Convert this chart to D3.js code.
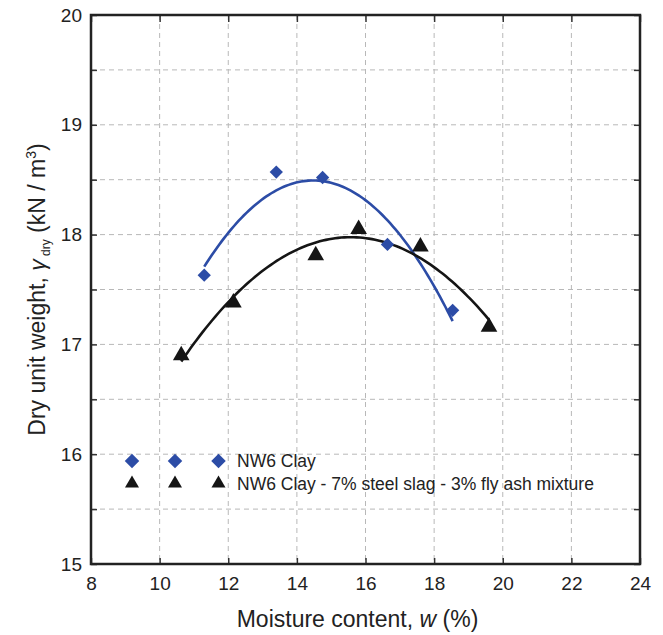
<!DOCTYPE html>
<html>
<head>
<meta charset="utf-8">
<script src="https://cdn.jsdelivr.net/npm/d3@7"></script>
<style>
  body { margin: 0; background: #fff; }
  text { font-family: "Liberation Sans", Arial, sans-serif; fill: #222; }
</style>
</head>
<body>
<div id="chart"></div>
<script>
// data
const clayW = [11.3, 13.4, 14.75, 16.64, 18.54];
const clayG = [17.63, 18.57, 18.52, 17.91, 17.31];
const mixW = [10.63, 12.15, 14.55, 15.8, 17.6, 19.6];
const mixG = [16.9, 17.38, 17.81, 18.05, 17.89, 17.16];
const xTicks = [8, 10, 12, 14, 16, 18, 20, 22, 24];
const yTicks = [15, 16, 17, 18, 19, 20];
const seriesNames = ["NW6 Clay", "NW6 Clay - 7% steel slag - 3% fly ash mixture"];

let margin = { top: 15, right: 23, bottom: 71, left: 91 },
    width = 663 - margin.left - margin.right,
    height = 635 - margin.top - margin.bottom;

let svg = d3.select("#chart")
    .append("svg")
    .attr("width", 663)
    .attr("height", 635)
    .append("g")
    .attr("transform", "translate(" + margin.left + "," + margin.top + ")");

let x = d3.scaleLinear().domain([8, 24]).range([0, width]);
let y = d3.scaleLinear().domain([15, 20]).range([height, 0]);

// dashed grid
let gridX = d3.range(10, 24, 2);
let gridY = d3.range(15.5, 20, 0.5);
svg.append("g").selectAll("line").data(gridX).enter().append("line")
    .attr("x1", d => x(d)).attr("x2", d => x(d))
    .attr("y1", 0).attr("y2", height)
    .attr("stroke", "#b8b8b8").attr("stroke-dasharray", "5,4").attr("stroke-width", 1);
svg.append("g").selectAll("line").data(gridY).enter().append("line")
    .attr("y1", d => y(d)).attr("y2", d => y(d))
    .attr("x1", 0).attr("x2", width)
    .attr("stroke", "#b8b8b8").attr("stroke-dasharray", "5,4").attr("stroke-width", 1);

// axes with inward ticks
let minorY = d3.range(15, 20.01, 0.5);
let axBottom = svg.append("g").attr("transform", "translate(0," + height + ")")
    .call(d3.axisBottom(x).tickValues(xTicks).tickSizeInner(-6).tickSizeOuter(0).tickPadding(13).tickFormat(d3.format("d")));
let axTop = svg.append("g")
    .call(d3.axisTop(x).tickValues(xTicks).tickSizeInner(-7).tickSizeOuter(0).tickFormat(""));
let axLeft = svg.append("g")
    .call(d3.axisLeft(y).tickValues(minorY).tickSizeInner(-6).tickSizeOuter(0).tickPadding(9)
        .tickFormat(d => Number.isInteger(d) ? d : ""));
let axRight = svg.append("g").attr("transform", "translate(" + width + ",0)")
    .call(d3.axisRight(y).tickValues(minorY).tickSizeInner(-6).tickSizeOuter(0).tickFormat(""));

[axBottom, axTop, axLeft, axRight].forEach(g => {
    g.select(".domain").remove();
    g.selectAll(".tick line").attr("stroke", "#333").attr("stroke-width", 1.5);
    g.selectAll("text").style("font-size", "19px").attr("fill", "#222");
});

// frame
svg.append("rect")
    .attr("width", width).attr("height", height)
    .attr("fill", "none").attr("stroke", "#222").attr("stroke-width", 2.5);

// quadratic least squares fit
function quadFit(xs, ys) {
    let n = xs.length, s = [0, 0, 0, 0, 0], t = [0, 0, 0];
    for (let i = 0; i < n; i++) {
        for (let k = 0; k < 5; k++) s[k] += Math.pow(xs[i], k);
        for (let k = 0; k < 3; k++) t[k] += ys[i] * Math.pow(xs[i], k);
    }
    let m = [[s[0], s[1], s[2], t[0]], [s[1], s[2], s[3], t[1]], [s[2], s[3], s[4], t[2]]];
    for (let i = 0; i < 3; i++) {
        for (let j = i + 1; j < 3; j++) {
            let f = m[j][i] / m[i][i];
            for (let k = i; k < 4; k++) m[j][k] -= f * m[i][k];
        }
    }
    let c = [0, 0, 0];
    for (let i = 2; i >= 0; i--) {
        let v = m[i][3];
        for (let k = i + 1; k < 3; k++) v -= m[i][k] * c[k];
        c[i] = v / m[i][i];
    }
    return w => c[0] + c[1] * w + c[2] * w * w;
}

let line = d3.line().x(d => x(d[0])).y(d => y(d[1]));
function drawFit(xs, ys, color) {
    let f = quadFit(xs, ys);
    let lo = d3.min(xs), hi = d3.max(xs);
    let pts = d3.range(0, 101).map(i => { let w = lo + (hi - lo) * i / 100; return [w, f(w)]; });
    svg.append("path").datum(pts).attr("d", line)
        .attr("fill", "none").attr("stroke", color).attr("stroke-width", 2.6);
}
const blue = "#2c4ca6", black = "#151515";
drawFit(clayW, clayG, blue);
drawFit(mixW, mixG, black);

// markers
let diamond = d3.symbol().type(d3.symbolSquare).size(88);
let tri = d3.symbol().type(d3.symbolTriangle).size(120);
svg.append("g").selectAll("path").data(clayW).enter().append("path")
    .attr("d", diamond)
    .attr("transform", (d, i) => "translate(" + x(d) + "," + y(clayG[i]) + ") rotate(45)")
    .attr("fill", blue);
svg.append("g").selectAll("path").data(mixW).enter().append("path")
    .attr("d", tri)
    .attr("transform", (d, i) => "translate(" + x(d) + "," + y(mixG[i]) + ")")
    .attr("fill", black);

// legend
let legend = svg.append("g");
let lgX = [41, 84, 127.5];
lgX.forEach(lx => {
    legend.append("path").attr("d", d3.symbol().type(d3.symbolSquare).size(105))
        .attr("transform", "translate(" + lx + ",446) rotate(45)").attr("fill", blue);
    legend.append("path").attr("d", d3.symbol().type(d3.symbolTriangle).size(85))
        .attr("transform", "translate(" + lx + ",468.5)").attr("fill", black);
});
legend.append("text").attr("x", 146).attr("y", 452).style("font-size", "17.5px").text(seriesNames[0]);
legend.append("text").attr("x", 146).attr("y", 475).style("font-size", "17.5px").text(seriesNames[1]);

// axis titles
svg.append("text")
    .attr("x", width / 2 - 8).attr("y", height + 63)
    .attr("text-anchor", "middle").style("font-size", "23px")
    .call(t => {
        t.append("tspan").text("Moisture content, ");
        t.append("tspan").style("font-style", "italic").text("w");
        t.append("tspan").text(" (%)");
    });

let yt = svg.append("text")
    .attr("transform", "translate(" + (45 - margin.left) + "," + (height / 2) + ") rotate(-90)")
    .attr("text-anchor", "middle").style("font-size", "23px");
yt.append("tspan").text("Dry unit weight, ");
yt.append("tspan").style("font-style", "italic").text("γ");
yt.append("tspan").attr("dy", 5).style("font-size", "12px").text(" dry");
yt.append("tspan").attr("dy", -5).text("  (kN / m");
yt.append("tspan").attr("dy", -9).style("font-size", "14px").text("3");
yt.append("tspan").attr("dy", 9).text(")");
</script>
</body>
</html>
